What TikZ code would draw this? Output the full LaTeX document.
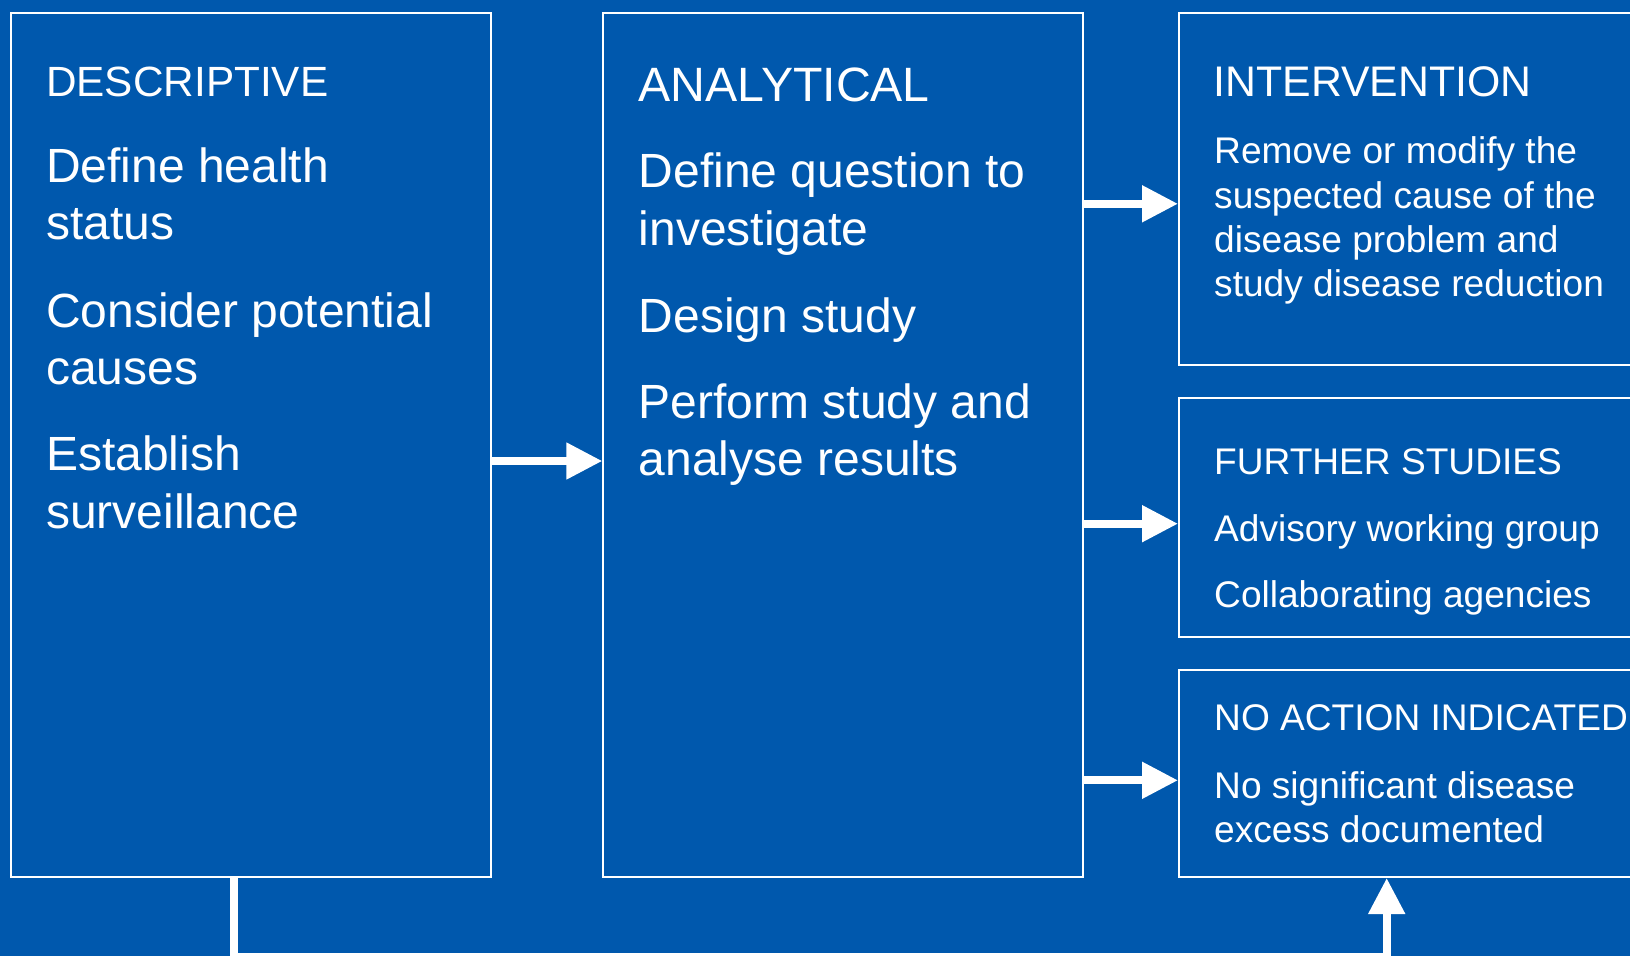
\documentclass[tikz,border=0pt]{standalone}
\usepackage{fontspec}
\setmainfont{Liberation Sans}
\usetikzlibrary{arrows.meta}
\definecolor{bg}{RGB}{0,88,173}
\newcommand\fsz[1]{\fontsize{#1pt}{#1pt}\selectfont}
\begin{document}
\begin{tikzpicture}[x=1pt,y=-1pt,
  box/.style={draw=white, line width=2pt, anchor=north west, inner sep=0pt},
  txt/.style={text=white, inner sep=0pt, anchor=base west},
  arr/.style={draw=white, line width=8pt, line join=miter, -{Triangle[length=36pt,width=35pt]}}]
\useasboundingbox (0,0) rectangle (1630,956);
\fill[bg] (0,0) rectangle (1630,956);
\clip (0,0) rectangle (1630,956);
% boxes
\node[box, minimum width=480pt, minimum height=864pt] (desc) at (10,12) {};
\node[box, minimum width=479.4pt, minimum height=864pt] (anal) at (602.3,12) {};
\node[box, minimum width=480pt, minimum height=352.3pt] (int) at (1178,12) {};
\node[box, minimum width=480pt, minimum height=239.5pt] (fur) at (1178,396.5) {};
\node[box, minimum width=480pt, minimum height=207pt] (noact) at (1178,669) {};
% descriptive text
\node[txt] (d0) at (46,96.7) {\fsz{42.3}DESCRIPTIVE};
\node[txt] (d1) at (46,182.3) {\fsz{48}Define health};
\node[txt] (d2) at (46,239.6) {\fsz{48}status};
\node[txt] (d3) at (46,327) {\fsz{48}Consider potential};
\node[txt] (d4) at (46,384) {\fsz{48}causes};
\node[txt] (d5) at (46,470.7) {\fsz{48}Establish};
\node[txt] (d6) at (46,528) {\fsz{48}surveillance};
% analytical text
\node[txt] (a0) at (638.5,101) {\fsz{48.2}ANALYTICAL};
\node[txt] (a1) at (638.5,187.7) {\fsz{48}Define question to};
\node[txt] (a2) at (638.5,245) {\fsz{48}investigate};
\node[txt] (a3) at (638.5,332) {\fsz{48}Design study};
\node[txt] (a4) at (638.5,418) {\fsz{48}Perform study and};
\node[txt] (a5) at (638.5,475.7) {\fsz{48}analyse results};
% intervention text
\node[txt] (i0) at (1213.5,96) {\fsz{42.8}INTERVENTION};
\node[txt] (i1) at (1214,163.3) {\fsz{37.1}Remove or modify the};
\node[txt] (i2) at (1214,208) {\fsz{37.1}suspected cause of the};
\node[txt] (i3) at (1214,252) {\fsz{37.1}disease problem and};
\node[txt] (i4) at (1214,296.7) {\fsz{37.1}study disease reduction};
% further studies text
\node[txt] (f0) at (1214,474) {\fsz{37.1}FURTHER STUDIES};
\node[txt] (f1) at (1214,541) {\fsz{37.1}Advisory working group};
\node[txt] (f2) at (1214,607) {\fsz{37.1}Collaborating agencies};
% no action text
\node[txt] (n0) at (1214,730) {\fsz{37.1}NO ACTION INDICATED};
\node[txt] (n1) at (1214,798) {\fsz{37.1}No significant disease};
\node[txt] (n2) at (1214,842) {\fsz{37.1}excess documented};
% connector coordinates
\coordinate (y0) at (0,461);
\coordinate (y1) at (0,203.8);
\coordinate (y2) at (0,523.7);
\coordinate (y3) at (0,780.3);
\coordinate (b1) at (234,956.5);
\coordinate (b2) at (1386.7,956.5);
% connectors
\draw[arr] (desc.east |- y0) -- (anal.west |- y0);
\draw[arr] (anal.east |- y1) -- (int.west |- y1);
\draw[arr] (anal.east |- y2) -- (fur.west |- y2);
\draw[arr] (anal.east |- y3) -- (noact.west |- y3);
\draw[arr] (desc.south -| b1) -- (b1) -- (b2) -- (noact.south -| b2);
\end{tikzpicture}
\end{document}
